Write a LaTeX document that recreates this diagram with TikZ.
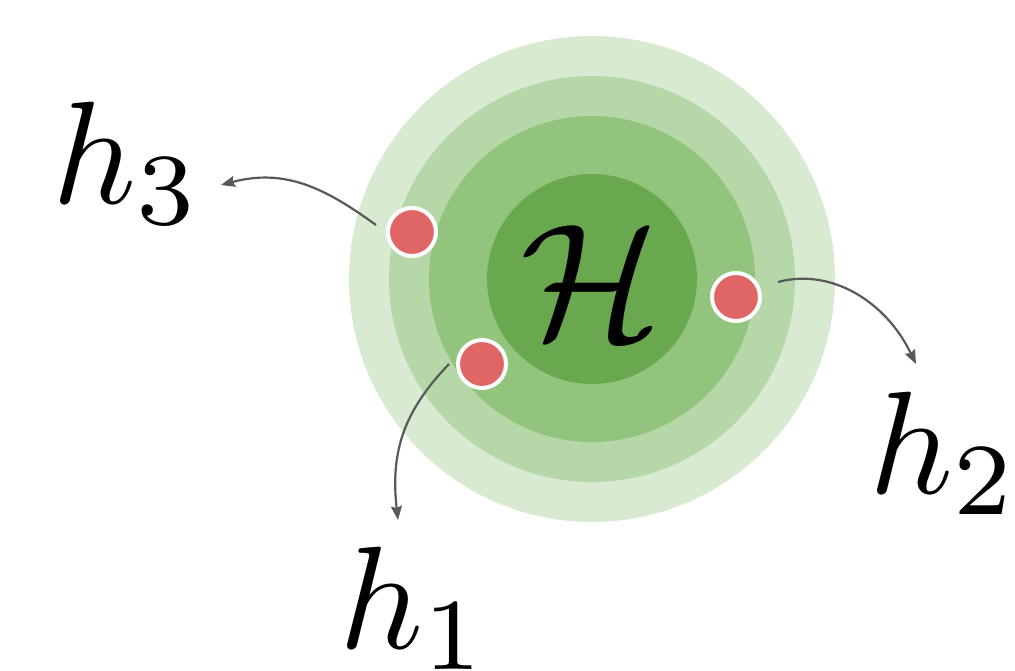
\documentclass[tikz,border=0pt]{standalone}
\usepackage{graphicx}
\usetikzlibrary{arrows.meta}
\definecolor{ring1}{HTML}{D9EAD3}
\definecolor{ring2}{HTML}{B6D7A8}
\definecolor{ring3}{HTML}{93C47D}
\definecolor{ring4}{HTML}{6AA84F}
\definecolor{dotred}{HTML}{E06666}
\definecolor{arrowgray}{HTML}{595959}
\newcommand{\biglbl}[1]{\scalebox{14.6}{$#1$}}
\begin{document}
\begin{tikzpicture}[x=1pt,y=-1pt,
  ring/.style={circle,inner sep=0pt,draw=none},
  dot/.style={circle,fill=dotred,draw=white,line width=4pt,minimum size=48pt,inner sep=0pt},
  lbl/.style={inner sep=0pt,anchor=base west},
  conn/.style={draw=arrowgray,line width=2.2pt,-{Stealth[length=14pt,width=11pt,inset=2pt]}}]
\useasboundingbox (0,0) rectangle (1015,670);
\node[ring,fill=ring1,minimum size=486pt] (r1) at (592,279) {};
\node[ring,fill=ring2,minimum size=406pt] (r2) at (592,279) {};
\node[ring,fill=ring3,minimum size=326pt] (r3) at (592,279) {};
\node[ring,fill=ring4,minimum size=210pt] (r4) at (592,279) {};
\node[inner sep=0pt] (H) at (591,282) {\scalebox{16.5}{$\mathcal{H}$}};
\node[dot] (d3) at (412,232) {};
\node[dot] (d2) at (736,297) {};
\node[dot] (d1) at (482,364) {};
\node[lbl] (h3) at (52,203) {\biglbl{h_3}};
\node[lbl] (h2) at (869,493) {\biglbl{h_2}};
\node[lbl] (h1) at (339,648) {\biglbl{h_1}};
\coordinate (s3) at (376,225);
\coordinate (e3) at (221,185);
\coordinate (s2) at (778,282);
\coordinate (e2) at (916,364);
\coordinate (s1) at (449,364);
\coordinate (e1) at (398,520);
\draw[conn] (s3) .. controls (325,188) and (285,168) .. (e3);
\draw[conn] (s2) .. controls (830,268) and (885,300) .. (e2);
\draw[conn] (s1) .. controls (405,410) and (390,450) .. (e1);
\end{tikzpicture}
\end{document}
